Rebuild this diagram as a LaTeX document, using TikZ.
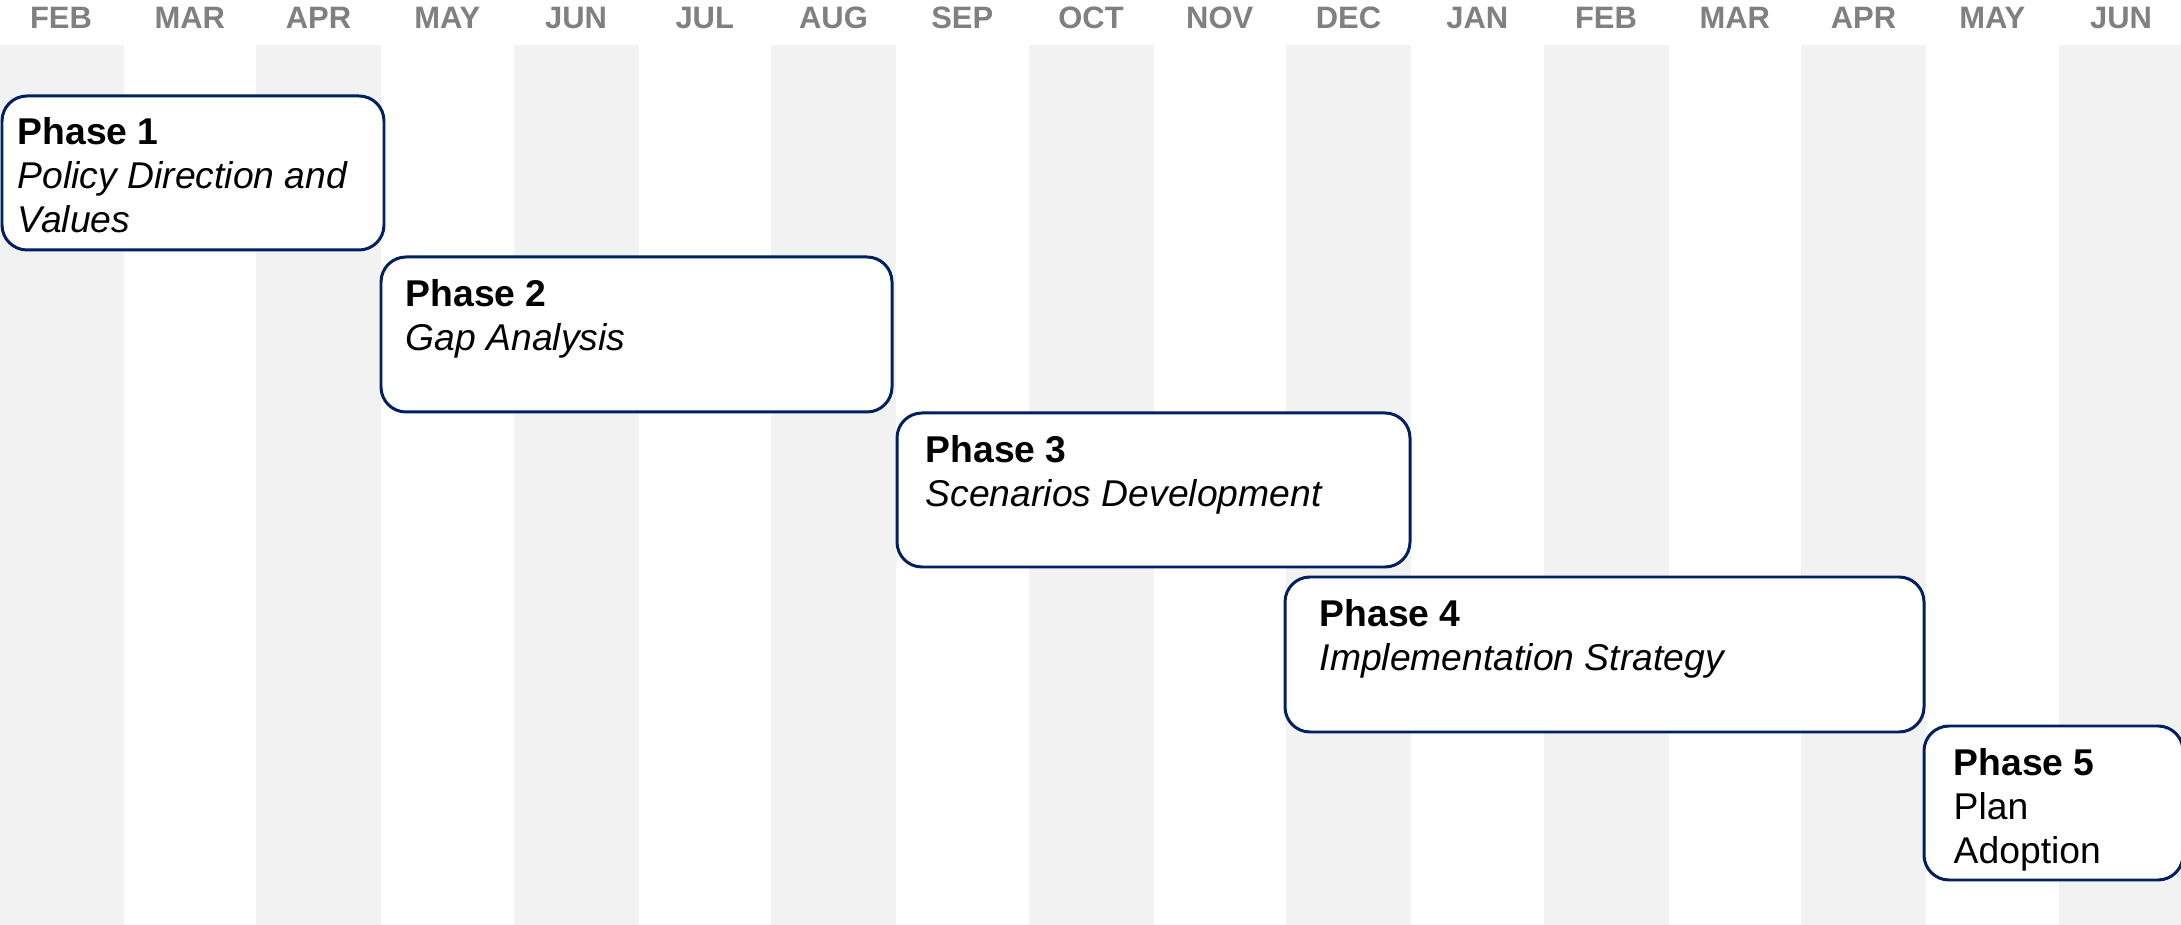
\documentclass[tikz,border=0pt]{standalone}
\usepackage{fontspec}
\setmainfont{Liberation Sans}
\definecolor{stripegray}{HTML}{F2F2F2}
\definecolor{monthgray}{HTML}{808080}
\definecolor{phaseblue}{HTML}{002060}
\tikzset{
  monthlabel/.style={font=\fontsize{8.8pt}{10pt}\selectfont\bfseries, text=monthgray, anchor=base, inner sep=0pt},
  phasebox/.style={draw=phaseblue, line width=0.85pt, rounded corners=0.25cm, fill=white},
  phasetext/.style={font=\fontsize{10.6pt}{12.5pt}\selectfont, align=left, anchor=north west, inner sep=0pt}
}

\begin{document}
\begin{tikzpicture}[x=0.01cm, y=-0.01cm]
\useasboundingbox (0,0) rectangle (2181,925);
\foreach \j in {0,...,8}
  \fill[stripegray] ({257.5*\j-1.5},45) rectangle ({257.5*\j+123.8},925);
\foreach \m [count=\i from 0] in {FEB,MAR,APR,MAY,JUN,JUL,AUG,SEP,OCT,NOV,DEC,JAN,FEB,MAR,APR,MAY,JUN}
  \node[monthlabel] (m\i) at ({128.75*\i+61},29) {\m};
\draw[phasebox] (2,96) rectangle (384,250);
\node[phasetext] (ph1) at (17,117) {\textbf{Phase 1}\\\textit{Policy Direction and}\\\textit{Values}};
\draw[phasebox] (381,257) rectangle (892,412);
\node[phasetext] (ph2) at (405,279) {\textbf{Phase 2}\\\textit{Gap Analysis}};
\draw[phasebox] (897,413) rectangle (1410,567);
\node[phasetext] (ph3) at (925,435) {\textbf{Phase 3}\\\textit{Scenarios Development}};
\draw[phasebox] (1285,577) rectangle (1924,732);
\node[phasetext] (ph4) at (1319,599) {\textbf{Phase 4}\\\textit{Implementation Strategy}};
\draw[phasebox] (1924,726) rectangle (2183,880);
\node[phasetext] (ph5) at (1953,748) {\textbf{Phase 5}\\Plan\\Adoption};
\end{tikzpicture}
\end{document}
